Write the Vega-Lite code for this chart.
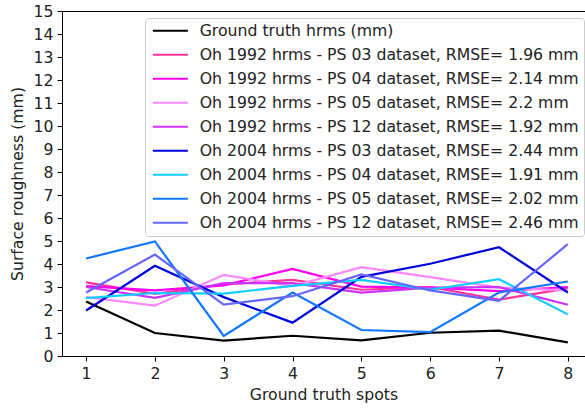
{
  "$schema": "https://vega.github.io/schema/vega-lite/v6.json",
  "autosize": "none",
  "padding": {"left": 62, "top": 11, "right": 0, "bottom": 53},
  "width": 523,
  "height": 345,
  "config": {
    "font": "DejaVu Sans",
    "view": {"stroke": "#000", "strokeWidth": 1},
    "axis": {
      "grid": false,
      "domainColor": "#000",
      "tickColor": "#000",
      "tickSize": 5,
      "labelFontSize": 15.7,
      "labelColor": "#222",
      "titleFontSize": 15.7,
      "titleFontWeight": "normal",
      "titleColor": "#222",
      "labelFont": "DejaVu Sans",
      "titleFont": "DejaVu Sans"
    }
  },
  "data": {
    "values": [
      {"spot": 1, "series": "Ground truth hrms (mm)", "value": 2.37},
      {"spot": 2, "series": "Ground truth hrms (mm)", "value": 1.0},
      {"spot": 3, "series": "Ground truth hrms (mm)", "value": 0.67},
      {"spot": 4, "series": "Ground truth hrms (mm)", "value": 0.88},
      {"spot": 5, "series": "Ground truth hrms (mm)", "value": 0.68},
      {"spot": 6, "series": "Ground truth hrms (mm)", "value": 1.01},
      {"spot": 7, "series": "Ground truth hrms (mm)", "value": 1.1},
      {"spot": 8, "series": "Ground truth hrms (mm)", "value": 0.59},

      {"spot": 1, "series": "Oh 1992 hrms - PS 03 dataset, RMSE= 1.96 mm", "value": 3.2},
      {"spot": 2, "series": "Oh 1992 hrms - PS 03 dataset, RMSE= 1.96 mm", "value": 2.7},
      {"spot": 3, "series": "Oh 1992 hrms - PS 03 dataset, RMSE= 1.96 mm", "value": 3.11},
      {"spot": 4, "series": "Oh 1992 hrms - PS 03 dataset, RMSE= 1.96 mm", "value": 3.31},
      {"spot": 5, "series": "Oh 1992 hrms - PS 03 dataset, RMSE= 1.96 mm", "value": 2.88},
      {"spot": 6, "series": "Oh 1992 hrms - PS 03 dataset, RMSE= 1.96 mm", "value": 3.0},
      {"spot": 7, "series": "Oh 1992 hrms - PS 03 dataset, RMSE= 1.96 mm", "value": 2.45},
      {"spot": 8, "series": "Oh 1992 hrms - PS 03 dataset, RMSE= 1.96 mm", "value": 2.94},

      {"spot": 1, "series": "Oh 1992 hrms - PS 04 dataset, RMSE= 2.14 mm", "value": 3.04},
      {"spot": 2, "series": "Oh 1992 hrms - PS 04 dataset, RMSE= 2.14 mm", "value": 2.85},
      {"spot": 3, "series": "Oh 1992 hrms - PS 04 dataset, RMSE= 2.14 mm", "value": 3.07},
      {"spot": 4, "series": "Oh 1992 hrms - PS 04 dataset, RMSE= 2.14 mm", "value": 3.79},
      {"spot": 5, "series": "Oh 1992 hrms - PS 04 dataset, RMSE= 2.14 mm", "value": 3.02},
      {"spot": 6, "series": "Oh 1992 hrms - PS 04 dataset, RMSE= 2.14 mm", "value": 2.97},
      {"spot": 7, "series": "Oh 1992 hrms - PS 04 dataset, RMSE= 2.14 mm", "value": 2.82},
      {"spot": 8, "series": "Oh 1992 hrms - PS 04 dataset, RMSE= 2.14 mm", "value": 3.0},

      {"spot": 1, "series": "Oh 1992 hrms - PS 05 dataset, RMSE= 2.2 mm", "value": 2.56},
      {"spot": 2, "series": "Oh 1992 hrms - PS 05 dataset, RMSE= 2.2 mm", "value": 2.19},
      {"spot": 3, "series": "Oh 1992 hrms - PS 05 dataset, RMSE= 2.2 mm", "value": 3.53},
      {"spot": 4, "series": "Oh 1992 hrms - PS 05 dataset, RMSE= 2.2 mm", "value": 3.04},
      {"spot": 5, "series": "Oh 1992 hrms - PS 05 dataset, RMSE= 2.2 mm", "value": 3.86},
      {"spot": 6, "series": "Oh 1992 hrms - PS 05 dataset, RMSE= 2.2 mm", "value": 3.43},
      {"spot": 7, "series": "Oh 1992 hrms - PS 05 dataset, RMSE= 2.2 mm", "value": 2.97},
      {"spot": 8, "series": "Oh 1992 hrms - PS 05 dataset, RMSE= 2.2 mm", "value": 2.85},

      {"spot": 1, "series": "Oh 1992 hrms - PS 12 dataset, RMSE= 1.92 mm", "value": 3.0},
      {"spot": 2, "series": "Oh 1992 hrms - PS 12 dataset, RMSE= 1.92 mm", "value": 2.53},
      {"spot": 3, "series": "Oh 1992 hrms - PS 12 dataset, RMSE= 1.92 mm", "value": 3.17},
      {"spot": 4, "series": "Oh 1992 hrms - PS 12 dataset, RMSE= 1.92 mm", "value": 3.17},
      {"spot": 5, "series": "Oh 1992 hrms - PS 12 dataset, RMSE= 1.92 mm", "value": 2.76},
      {"spot": 6, "series": "Oh 1992 hrms - PS 12 dataset, RMSE= 1.92 mm", "value": 2.97},
      {"spot": 7, "series": "Oh 1992 hrms - PS 12 dataset, RMSE= 1.92 mm", "value": 3.0},
      {"spot": 8, "series": "Oh 1992 hrms - PS 12 dataset, RMSE= 1.92 mm", "value": 2.23},

      {"spot": 1, "series": "Oh 2004 hrms - PS 03 dataset, RMSE= 2.44 mm", "value": 1.98},
      {"spot": 2, "series": "Oh 2004 hrms - PS 03 dataset, RMSE= 2.44 mm", "value": 3.92},
      {"spot": 3, "series": "Oh 2004 hrms - PS 03 dataset, RMSE= 2.44 mm", "value": 2.56},
      {"spot": 4, "series": "Oh 2004 hrms - PS 03 dataset, RMSE= 2.44 mm", "value": 1.45},
      {"spot": 5, "series": "Oh 2004 hrms - PS 03 dataset, RMSE= 2.44 mm", "value": 3.44},
      {"spot": 6, "series": "Oh 2004 hrms - PS 03 dataset, RMSE= 2.44 mm", "value": 4.01},
      {"spot": 7, "series": "Oh 2004 hrms - PS 03 dataset, RMSE= 2.44 mm", "value": 4.73},
      {"spot": 8, "series": "Oh 2004 hrms - PS 03 dataset, RMSE= 2.44 mm", "value": 2.76},

      {"spot": 1, "series": "Oh 2004 hrms - PS 04 dataset, RMSE= 1.91 mm", "value": 2.52},
      {"spot": 2, "series": "Oh 2004 hrms - PS 04 dataset, RMSE= 1.91 mm", "value": 2.74},
      {"spot": 3, "series": "Oh 2004 hrms - PS 04 dataset, RMSE= 1.91 mm", "value": 2.71},
      {"spot": 4, "series": "Oh 2004 hrms - PS 04 dataset, RMSE= 1.91 mm", "value": 3.05},
      {"spot": 5, "series": "Oh 2004 hrms - PS 04 dataset, RMSE= 1.91 mm", "value": 3.31},
      {"spot": 6, "series": "Oh 2004 hrms - PS 04 dataset, RMSE= 1.91 mm", "value": 2.88},
      {"spot": 7, "series": "Oh 2004 hrms - PS 04 dataset, RMSE= 1.91 mm", "value": 3.34},
      {"spot": 8, "series": "Oh 2004 hrms - PS 04 dataset, RMSE= 1.91 mm", "value": 1.81},

      {"spot": 1, "series": "Oh 2004 hrms - PS 05 dataset, RMSE= 2.02 mm", "value": 4.24},
      {"spot": 2, "series": "Oh 2004 hrms - PS 05 dataset, RMSE= 2.02 mm", "value": 4.98},
      {"spot": 3, "series": "Oh 2004 hrms - PS 05 dataset, RMSE= 2.02 mm", "value": 0.87},
      {"spot": 4, "series": "Oh 2004 hrms - PS 05 dataset, RMSE= 2.02 mm", "value": 2.76},
      {"spot": 5, "series": "Oh 2004 hrms - PS 05 dataset, RMSE= 2.02 mm", "value": 1.13},
      {"spot": 6, "series": "Oh 2004 hrms - PS 05 dataset, RMSE= 2.02 mm", "value": 1.04},
      {"spot": 7, "series": "Oh 2004 hrms - PS 05 dataset, RMSE= 2.02 mm", "value": 2.76},
      {"spot": 8, "series": "Oh 2004 hrms - PS 05 dataset, RMSE= 2.02 mm", "value": 3.24},

      {"spot": 1, "series": "Oh 2004 hrms - PS 12 dataset, RMSE= 2.46 mm", "value": 2.76},
      {"spot": 2, "series": "Oh 2004 hrms - PS 12 dataset, RMSE= 2.46 mm", "value": 4.41},
      {"spot": 3, "series": "Oh 2004 hrms - PS 12 dataset, RMSE= 2.46 mm", "value": 2.23},
      {"spot": 4, "series": "Oh 2004 hrms - PS 12 dataset, RMSE= 2.46 mm", "value": 2.6},
      {"spot": 5, "series": "Oh 2004 hrms - PS 12 dataset, RMSE= 2.46 mm", "value": 3.55},
      {"spot": 6, "series": "Oh 2004 hrms - PS 12 dataset, RMSE= 2.46 mm", "value": 2.85},
      {"spot": 7, "series": "Oh 2004 hrms - PS 12 dataset, RMSE= 2.46 mm", "value": 2.4},
      {"spot": 8, "series": "Oh 2004 hrms - PS 12 dataset, RMSE= 2.46 mm", "value": 4.86}
    ]
  },
  "mark": {"type": "line", "strokeWidth": 2.2, "clip": true},
  "encoding": {
    "x": {
      "field": "spot",
      "type": "quantitative",
      "scale": {"domain": [0.65, 8.25], "nice": false, "zero": false},
      "axis": {"values": [1, 2, 3, 4, 5, 6, 7, 8], "title": "Ground truth spots", "labelPadding": 5, "titlePadding": 7}
    },
    "y": {
      "field": "value",
      "type": "quantitative",
      "scale": {"domain": [0, 15], "nice": false},
      "axis": {"values": [0, 1, 2, 3, 4, 5, 6, 7, 8, 9, 10, 11, 12, 13, 14, 15], "title": "Surface roughness (mm)", "labelPadding": 4, "titlePadding": 8}
    },
    "color": {
      "field": "series",
      "type": "nominal",
      "scale": {
        "domain": [
          "Ground truth hrms (mm)",
          "Oh 1992 hrms - PS 03 dataset, RMSE= 1.96 mm",
          "Oh 1992 hrms - PS 04 dataset, RMSE= 2.14 mm",
          "Oh 1992 hrms - PS 05 dataset, RMSE= 2.2 mm",
          "Oh 1992 hrms - PS 12 dataset, RMSE= 1.92 mm",
          "Oh 2004 hrms - PS 03 dataset, RMSE= 2.44 mm",
          "Oh 2004 hrms - PS 04 dataset, RMSE= 1.91 mm",
          "Oh 2004 hrms - PS 05 dataset, RMSE= 2.02 mm",
          "Oh 2004 hrms - PS 12 dataset, RMSE= 2.46 mm"
        ],
        "range": ["#000000", "#ff3399", "#ff00f0", "#ff88ff", "#cc33ff", "#0000dd", "#11ccff", "#1177ff", "#6666ff"]
      },
      "legend": {
        "orient": "none",
        "legendX": 83,
        "legendY": 7,
        "title": null,
        "symbolType": "M-1,0H6",
        "symbolSize": 100,
        "symbolStrokeWidth": 2,
        "labelFontSize": 15.7,
        "labelColor": "#222",
        "labelLimit": 600,
        "labelOffset": 34,
        "rowPadding": 7,
        "padding": 5,
        "fillColor": "white",
        "strokeColor": "#cccccc",
        "cornerRadius": 3
      }
    }
  }
}
